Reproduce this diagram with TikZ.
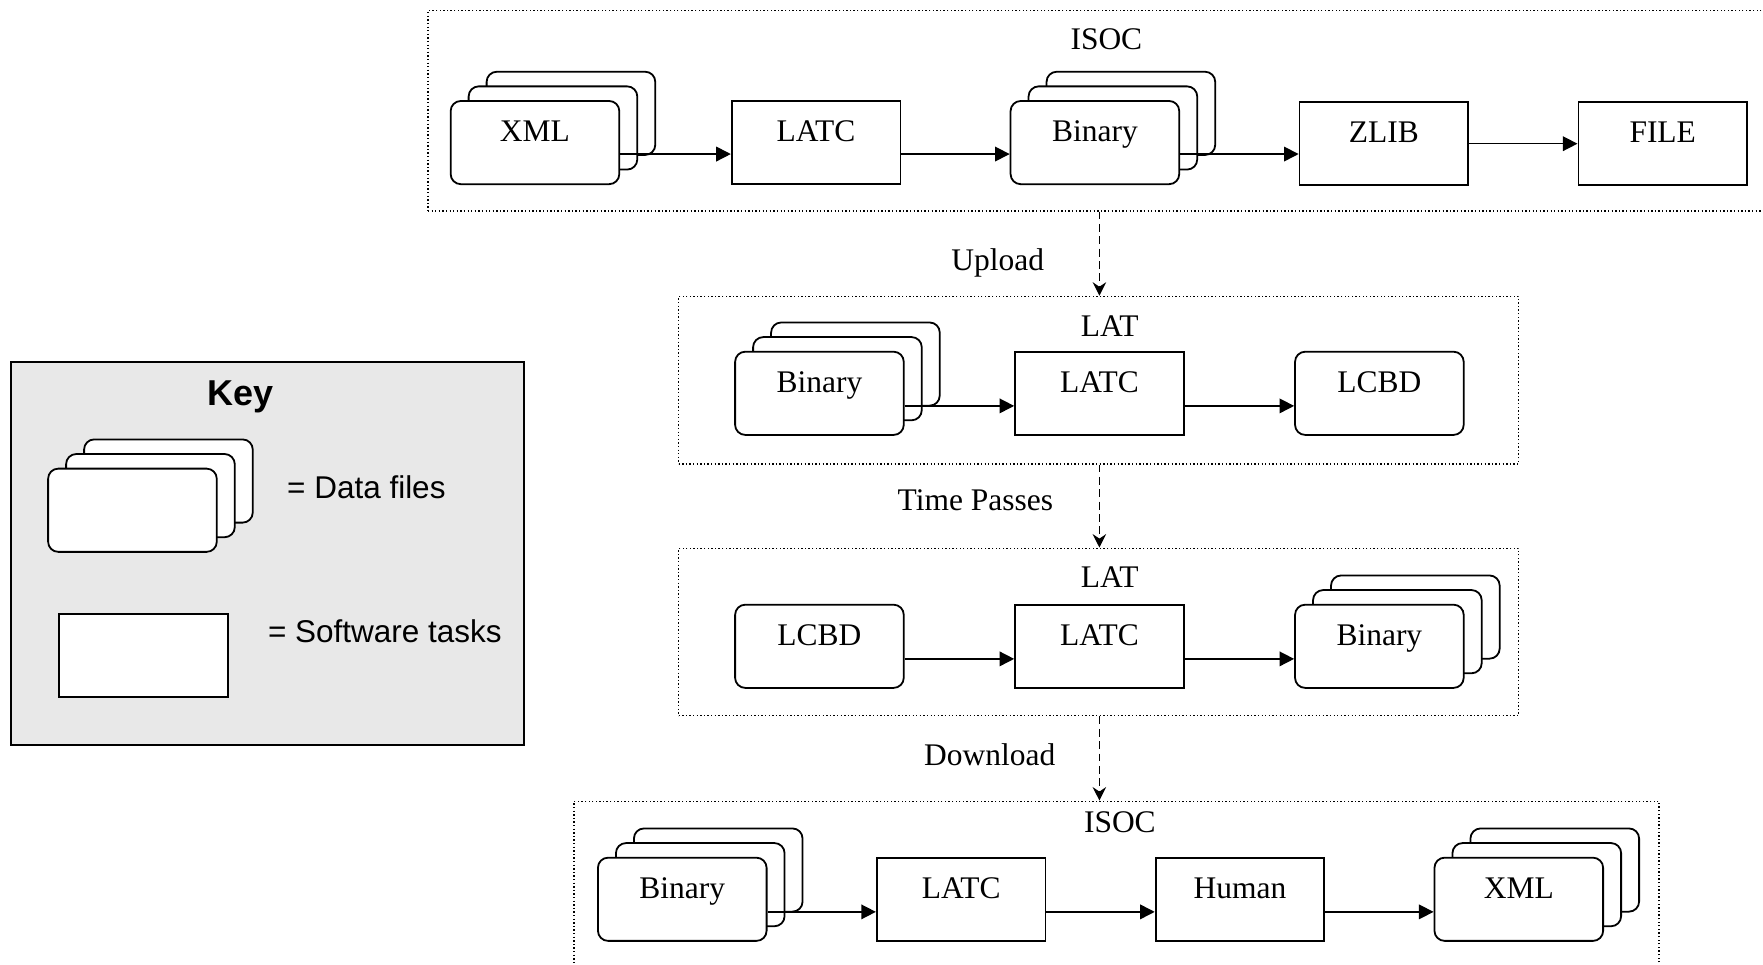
\documentclass[tikz,border=0pt]{standalone}
\usepackage{fontspec}
\setmainfont{Liberation Serif}
\newfontfamily\keyfont{Liberation Sans}
\usetikzlibrary{arrows.meta}
\definecolor{keygray}{RGB}{232,232,232}
\newcommand\dstack[4]{%
  \node[dfile] (#1c) at (#2+32,#3-26) {};
  \node[dfile] (#1b) at (#2+16,#3-13) {};
  \node[dfile] (#1) at (#2,#3) {#4};
}
\begin{document}
\begin{tikzpicture}[x={(0.5pt,0)},y={(0,-0.5pt)},
  task/.style={draw, line width=0.8pt, fill=white, rectangle, minimum width=75pt,
    inner sep=0pt, text height=18.1pt, text depth=18.9pt, anchor=north west,
    font=\fontsize{14pt}{16pt}\selectfont},
  dfile/.style={task, rounded corners=4.5pt},
  frame/.style={draw, densely dotted, line width=0.6pt, anchor=north west, inner sep=0pt},
  lbl/.style={inner sep=0pt, font=\fontsize{14pt}{16pt}\selectfont},
  flow/.style={-{Triangle[length=6.5pt,width=6.5pt]}, line width=0.7pt},
  hop/.style={dash pattern=on 3.5pt off 2pt, -{Stealth[length=6pt,width=6pt,inset=2pt]}, line width=0.6pt},
]
\useasboundingbox (0,0) rectangle (1568,858);

% frames
\node[frame, minimum width=600pt, minimum height=89pt] (f1) at (380,9) {};
\node[frame, minimum width=373.5pt, minimum height=74.5pt] (f2) at (603,263) {};
\node[frame, minimum width=373.5pt, minimum height=74.5pt] (f3) at (603,487) {};
\node[frame, minimum width=482.5pt, minimum height=90pt] (f4) at (510,712) {};

\node[lbl] (isoc1) at (984,35) {ISOC};
\node[lbl] (lat2) at (987,290) {LAT};
\node[lbl] (lat3) at (987,513) {LAT};
\node[lbl] (isoc4) at (996,731) {ISOC};

% row 1
\dstack{xml1}{400}{89}{XML}
\node[task] (latc1) at (650,89) {LATC};
\dstack{bin1}{898}{89}{Binary}
\node[task] (zlib) at (1155,90) {ZLIB};
\node[task] (file) at (1403,90) {FILE};
\coordinate (r1) at (0,137);
\draw[flow] (xml1.east |- r1) -- (latc1.west |- r1);
\draw[flow] (latc1.east |- r1) -- (bin1.west |- r1);
\draw[flow] (bin1.east |- r1) -- (zlib.west |- r1);
\draw[flow] (zlib.east) -- (file.west);

% row 2
\dstack{bin2}{653}{312}{Binary}
\node[task] (latc2) at (902,312) {LATC};
\node[dfile] (lcbd2) at (1151,312) {LCBD};
\coordinate (r2) at (0,361);
\draw[flow] (bin2.east |- r2) -- (latc2.west |- r2);
\draw[flow] (latc2.east |- r2) -- (lcbd2.west |- r2);

% row 3
\node[dfile] (lcbd3) at (653,537) {LCBD};
\node[task] (latc3) at (902,537) {LATC};
\dstack{bin3}{1151}{537}{Binary}
\coordinate (r3) at (0,586);
\draw[flow] (lcbd3.east |- r3) -- (latc3.west |- r3);
\draw[flow] (latc3.east |- r3) -- (bin3.west |- r3);

% row 4
\dstack{bin4}{531}{762}{Binary}
\node[task] (latc4) at (779,762) {LATC};
\node[task] (human) at (1027,762) {Human};
\dstack{xml4}{1275}{762}{XML}
\coordinate (r4) at (0,811);
\draw[flow] (bin4.east |- r4) -- (latc4.west |- r4);
\draw[flow] (latc4.east |- r4) -- (human.west |- r4);
\draw[flow] (human.east |- r4) -- (xml4.west |- r4);

% transitions
\draw[hop] (f1.south -| latc2) -- (f2.north -| latc2);
\draw[hop] (f2.south -| latc2) -- (f3.north -| latc2);
\draw[hop] (f3.south -| latc2) -- (f4.north -| latc2);
\node[lbl, anchor=base east] (up) at (929,241) {Upload};
\node[lbl, anchor=base east] (tp) at (937,454) {Time Passes};
\node[lbl, anchor=base east] (dl) at (939,681) {Download};

% key
\node[draw, fill=keygray, line width=0.8pt, minimum width=228pt, minimum height=170.5pt,
  anchor=north west, inner sep=0pt] (key) at (9,321) {};
\node[inner sep=0pt, font=\keyfont\bfseries\fontsize{16pt}{18pt}\selectfont] (keyt) at (214,353) {Key};
\dstack{kdata}{42}{416}{}
\node[task] (ktask) at (52,545) {};
\node[inner sep=0pt, anchor=west, font=\keyfont\fontsize{14pt}{16pt}\selectfont] (kdl) at (255,433) {= Data files};
\node[inner sep=0pt, anchor=west, font=\keyfont\fontsize{14pt}{16pt}\selectfont] (ktl) at (238,561) {= Software tasks};
\end{tikzpicture}
\end{document}
